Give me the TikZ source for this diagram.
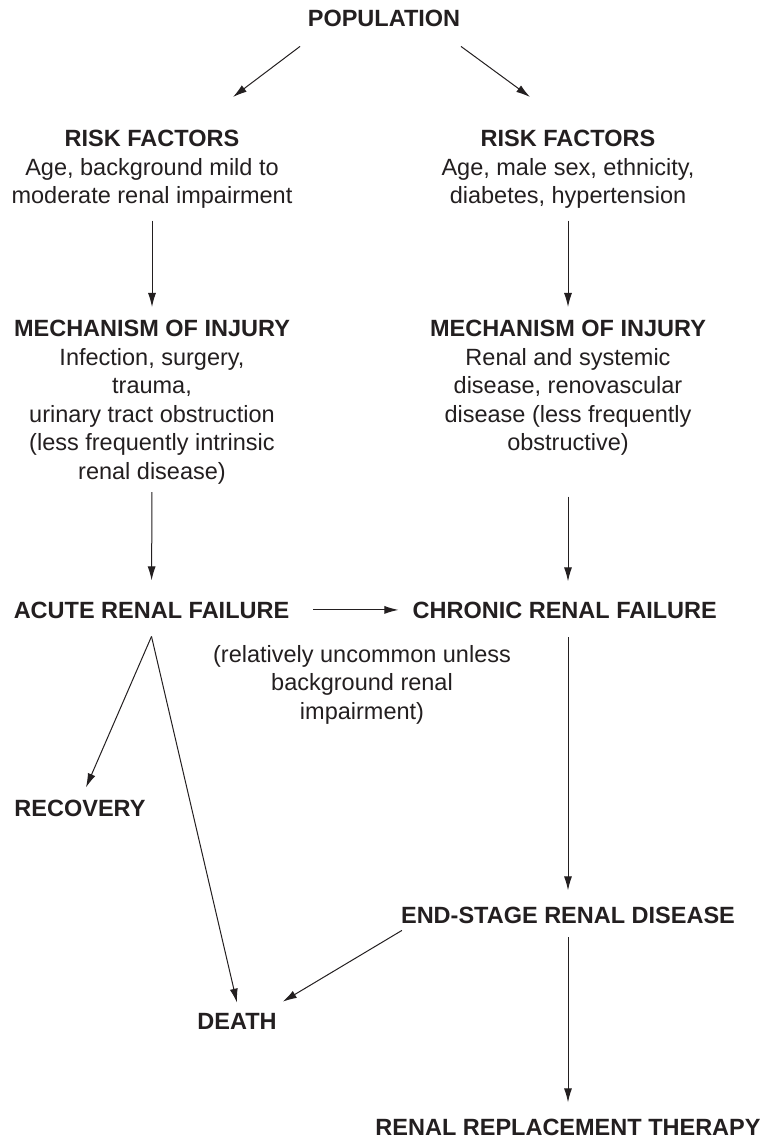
\documentclass[tikz,border=0pt]{standalone}
\usepackage{fontspec}
\setmainfont{Liberation Sans}
\usetikzlibrary{positioning,
                arrows.meta}
\definecolor{inkblack}{RGB}{35,31,32}
\tikzset{
         head/.style={font=\fontsize{23.5}{28.5}\selectfont\bfseries, inner sep=0pt, text=inkblack},
         block/.style={font=\fontsize{23.5}{28.5}\selectfont, align=center, inner sep=0pt, text=inkblack},
         myarrow/.style={-{Latex[length=14pt, width=8pt]}, line width=1pt, draw=inkblack},
}

\begin{document}
\begin{tikzpicture}[x=1pt, y=-1pt]
    \useasboundingbox (0,0) rectangle (764,1139);

    % Population
    \node[head, anchor=base] (pop) at (384,27) {POPULATION};

    % risk factors
    \node[block, anchor=north] (rfl) at (152,130)
        {\textbf{RISK FACTORS}\\Age, background mild to\\moderate renal impairment};
    \node[block, anchor=north] (rfr) at (568,130)
        {\textbf{RISK FACTORS}\\Age, male sex, ethnicity,\\diabetes, hypertension};
    \draw[myarrow] ([xshift=-84pt, yshift=-19pt]pop.south) -- ([xshift=81pt, yshift=33pt]rfl.north);
    \draw[myarrow] ([xshift=77pt, yshift=-19pt]pop.south) -- ([xshift=-38pt, yshift=33pt]rfr.north);

    % mechanism of injury
    \node[block, anchor=north] (mechl) at (152,320)
        {\textbf{MECHANISM OF INJURY}\\Infection, surgery,\\trauma,\\urinary tract obstruction\\(less frequently intrinsic\\renal disease)};
    \node[block, anchor=north] (mechr) at (568,320)
        {\textbf{MECHANISM OF INJURY}\\Renal and systemic\\disease, renovascular\\disease (less frequently\\obstructive)};
    \draw[myarrow, shorten <=12pt, shorten >=13pt] (rfl.south) -- (mechl.north);
    \draw[myarrow, shorten <=12pt, shorten >=13pt] (rfr.south) -- (mechr.north);

    % renal failure
    \node[head, anchor=base] (arf) at (151.5,618) {ACUTE RENAL FAILURE};
    \node[head, right=123pt of arf] (crf) {CHRONIC RENAL FAILURE};
    \node[block, anchor=north] (note) at (362,645)
        {(relatively uncommon unless\\background renal\\impairment)};
    \draw[myarrow, shorten <=8pt, shorten >=21pt] (mechl.south) -- (arf.north);
    \draw[myarrow, shorten <=41pt, shorten >=20pt] (mechr.south) -- (mechr.south |- crf.north);
    \draw[myarrow, shorten <=24pt, shorten >=14pt] (arf.east) -- (crf.west);

    % outcomes
    \node[head, anchor=base] (rec) at (80,816) {RECOVERY};
    \node[head, anchor=base] (death) at (237,1029) {DEATH};
    \node[head, anchor=base] (esrd) at (568,923) {END-STAGE RENAL DISEASE};
    \node[head, anchor=base] (rrt) at (568,1135) {RENAL REPLACEMENT THERAPY};
    \draw[myarrow] ([yshift=-18pt]arf.south) -- ([xshift=6pt, yshift=12pt]rec.north);
    \draw[myarrow] ([yshift=-18pt]arf.south) -- ([yshift=10pt]death.north);
    \draw[myarrow, shorten <=19pt, shorten >=16pt] (esrd.north |- crf.south) -- (esrd.north);
    \draw[myarrow, shorten <=14pt, shorten >=16pt] (esrd.south) -- (rrt.north);
    \draw[myarrow] ([xshift=1pt, yshift=-7pt]esrd.south west) -- ([xshift=6pt, yshift=11pt]death.north east);
\end{tikzpicture}
\end{document}
